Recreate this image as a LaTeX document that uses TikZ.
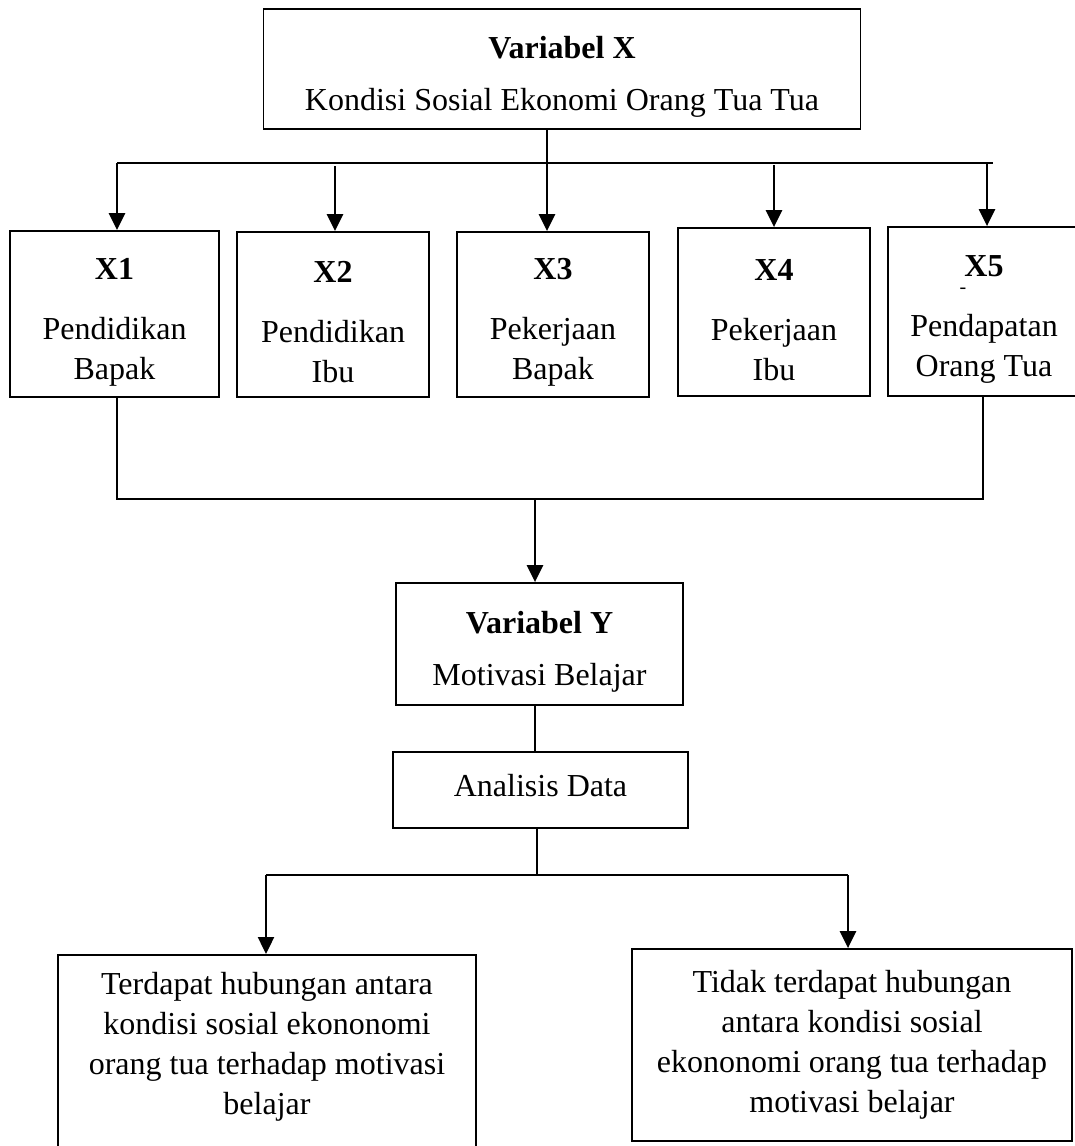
\documentclass[tikz,border=0pt]{standalone}
\usepackage{fontspec}
\setmainfont{Liberation Serif}
\usetikzlibrary{arrows.meta}

\newcommand{\padtop}{\rule{0pt}{37pt}}

\begin{document}
\begin{tikzpicture}[x=1pt,y=-1pt]
  \tikzset{
      > = {Triangle[length=17pt,width=16pt]},
      every node/.append style = {
          font = \fontsize{32}{40}\selectfont,
          align = center
      },
      box/.style = {
          draw,
          line width = 1.8pt,
          inner sep = 0pt
      },
      link/.style = {
          line width = 1.3pt
      },
      lead/.style = {
          ->,
          line width = 2.4pt
      }
  }
  \useasboundingbox (0,0) rectangle (1075,1146);

  \node[box, minimum width=597pt, minimum height=120pt] (vx) at (562,69)
      {\padtop\textbf{Variabel X}\\[12pt] Kondisi Sosial Ekonomi Orang Tua Tua};

  \node[box, minimum width=209pt, minimum height=166pt] (x1) at (114.5,314)
      {\padtop\textbf{X1}\\[20pt] Pendidikan\\ Bapak};
  \node[box, minimum width=192pt, minimum height=165pt] (x2) at (333,314.5)
      {\padtop\textbf{X2}\\[20pt] Pendidikan\\ Ibu};
  \node[box, minimum width=192pt, minimum height=165pt] (x3) at (553,314.5)
      {\padtop\textbf{X3}\\[20pt] Pekerjaan\\ Bapak};
  \node[box, minimum width=192pt, minimum height=168pt] (x4) at (774,312)
      {\padtop\textbf{X4}\\[20pt] Pekerjaan\\ Ibu};
  \node[box, minimum width=192pt, minimum height=169pt] (x5) at (984,311.5)
      {\padtop\textbf{X5}\\[20pt] Pendapatan\\ Orang Tua};
  \node[font=\fontsize{20}{20}\selectfont, inner sep=0pt] (x5d) at (963,291) {-};

  \node[box, minimum width=287pt, minimum height=122pt] (vy) at (539.5,644)
      {\padtop\textbf{Variabel Y}\\[12pt] Motivasi Belajar};
  \node[box, minimum width=295pt, minimum height=76pt, text depth=10pt] (ad) at (540.5,790)
      {Analisis Data};

  \node[box, anchor=north, minimum width=418pt, minimum height=216pt] (hy) at (267,954)
      {Terdapat hubungan antara\\ kondisi sosial ekononomi\\ orang tua terhadap motivasi\\ belajar\\ \mbox{}};
  \node[box, minimum width=440pt, minimum height=192pt] (hn) at (852,1045)
      {Tidak terdapat hubungan\\ antara kondisi sosial\\ ekononomi orang tua terhadap\\ motivasi belajar};

  % branch points
  \coordinate (t1) at (117,163);
  \coordinate (t2) at (335,166);
  \coordinate (t4) at (774,165);
  \coordinate (t5) at (987,163);
  \coordinate (te) at (993,163);
  \coordinate (b1) at (117,499);
  \coordinate (b5) at (983,499);
  \coordinate (bm) at (535,499);
  \coordinate (c1) at (266,875);
  \coordinate (cm) at (537,875);
  \coordinate (c2) at (848,875);

  \draw[link] (t1) -- (te);
  \draw[lead] (t1) -- (t1 |- x1.north);
  \draw[lead] (t2) -- (t2 |- x2.north);
  \draw[lead] ([xshift=-15pt]vx.south) -- ([xshift=-15pt]vx.south |- x3.north);
  \draw[lead] (t4) -- (t4 |- x4.north);
  \draw[lead] (t5) -- (t5 |- x5.north);

  \draw[link] (x1.south -| b1) -- (b1) -- (b5) -- (x5.south -| b5);
  \draw[lead] (bm) -- (bm |- vy.north);
  \draw[link] (vy.south -| bm) -- (ad.north -| bm);

  \draw[link] (ad.south -| cm) -- (cm);
  \draw[link] (c1) -- (c2);
  \draw[lead] (c1) -- (c1 |- hy.north);
  \draw[lead] (c2) -- (c2 |- hn.north);
\end{tikzpicture}
\end{document}
